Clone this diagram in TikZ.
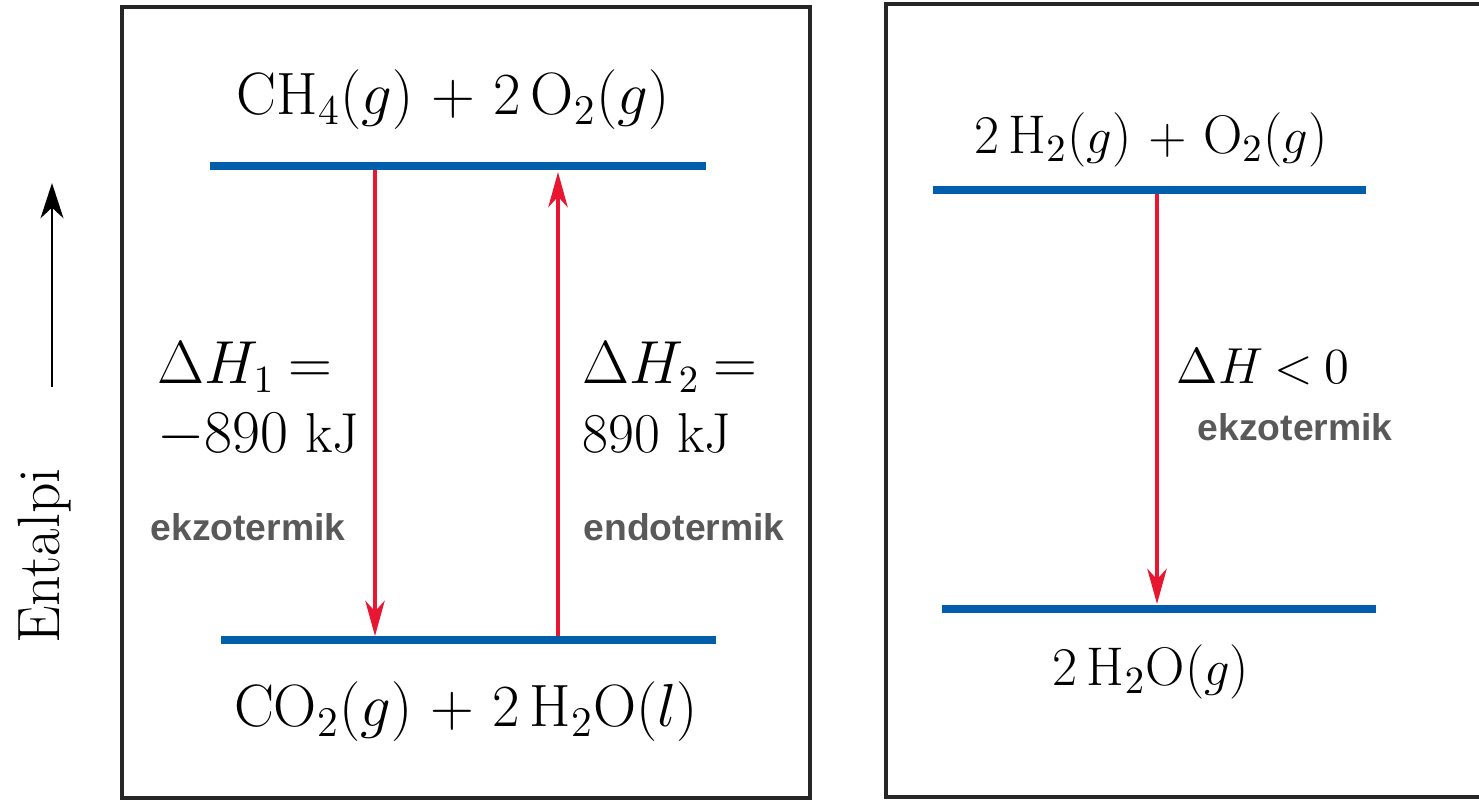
\documentclass[tikz,border=0pt]{standalone}
\usepackage{fontspec}
\newfontfamily\notefont{Liberation Sans}
\usetikzlibrary{arrows.meta}

\definecolor{levelblue}{RGB}{0,94,170}
\definecolor{arrowred}{RGB}{232,22,48}
\definecolor{notegray}{RGB}{89,89,89}

\tikzset{
  level/.style={levelblue, line width=2.3pt},
  change/.style={arrowred, line width=1.2pt, -{Stealth[length=10pt,width=5.5pt,inset=3pt]}},
  frame/.style={draw=black!85, line width=0.9pt},
  chem/.style={font=\fontsize{17}{17}\selectfont, inner sep=0pt},
  chemr/.style={font=\fontsize{15.5}{17}\selectfont, inner sep=0pt},
  delta/.style={font=\fontsize{16}{16}\selectfont, inner sep=0pt, anchor=base west,
    execute at begin node={\thickmuskip=4mu plus 2mu}},
  note/.style={font=\notefont\bfseries\fontsize{10.6}{12}\selectfont, text=notegray, inner sep=0pt},
}

\begin{document}
\begin{tikzpicture}[x=0.01cm, y=-0.01cm]
      \useasboundingbox (0,0) rectangle (1479,799);

      % frames
      \draw[frame] (122,7) rectangle (810,798);
      \draw[frame] (1479,4) -- (886,4) -- (886,797) -- (1479,797);

      % enthalpy axis
      \node[font=\fontsize{17}{17}\selectfont, rotate=90] (ax) at (45,556) {Entalpi};
      \coordinate (ax0) at (52,387);
      \coordinate (ax1) at (52,183);
      \draw[line width=0.8pt, -{Stealth[length=10pt,width=6.5pt,inset=3pt]}] (ax0) -- (ax1);

      % methane
      \coordinate (t1) at (210,166);
      \coordinate (t2) at (706,166);
      \coordinate (b1) at (221,640);
      \coordinate (b2) at (716,640);
      \draw[level] (t1) -- (t2);
      \draw[level] (b1) -- (b2);

      \node[chem] (react) at (453,100) {CH$_4$($g$) $+$ 2\,O$_2$($g$)};
      \node[chem] (prod) at (466,712) {CO$_2$($g$) $+$ 2\,H$_2$O($l$)};

      \coordinate (d1) at (375,170);
      \coordinate (d2) at (375,636);
      \coordinate (u1) at (558,636);
      \coordinate (u2) at (558,172);
      \draw[change] (d1) -- (d2);
      \draw[change] (u1) -- (u2);

      \node[delta] (dh1) at (157,383) {$\Delta H_1 =$};
      \node[delta] (kj1) at (157,452) {$-890$ kJ};
      \node[delta] (dh2) at (582,383) {$\Delta H_2 =$};
      \node[delta] (kj2) at (582,452) {890 kJ};
      \node[note, anchor=west] (exo1) at (150,527) {ekzotermik};
      \node[note, anchor=west] (endo) at (583,527) {endotermik};

      % hydrogen
      \coordinate (h1) at (933,190);
      \coordinate (h2) at (1366,190);
      \coordinate (w1) at (942,609);
      \coordinate (w2) at (1376,609);
      \draw[level] (h1) -- (h2);
      \draw[level] (w1) -- (w2);

      \node[chemr] (hreact) at (1151,140) {2\,H$_2$($g$) $+$ O$_2$($g$)};
      \node[chemr] (hprod) at (1151,672) {2\,H$_2$O($g$)};

      \coordinate (r1) at (1157,194);
      \coordinate (r2) at (1157,604);
      \draw[change] (r1) -- (r2);

      \node[delta, font=\fontsize{14.5}{16}\selectfont] (dh3) at (1176,383) {$\Delta H < 0$};
      \node[note, anchor=west] (exo2) at (1197,427) {ekzotermik};
\end{tikzpicture}
\end{document}
